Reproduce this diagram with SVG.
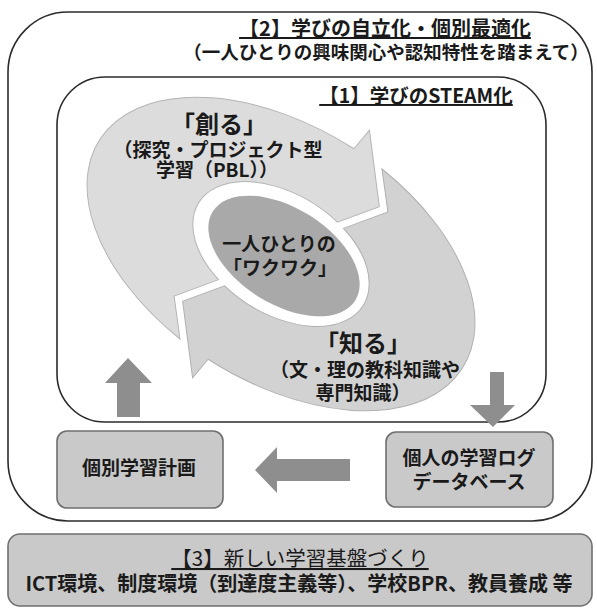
<svg xmlns="http://www.w3.org/2000/svg" xmlns:xlink="http://www.w3.org/1999/xlink" width="597" height="610" viewBox="0 0 597 610">
<style>
text{font-family:"Noto Sans CJK JP","Noto Sans",sans-serif;fill:#1a1a1a;text-anchor:middle}
.b{font-weight:700}
.frame{fill:none;stroke:#2b2b2b;stroke-width:1.6}
.box{fill:#c9c9c9;stroke:#6f6f6f;stroke-width:1.6}
.arr{fill:#8e8e8e}
.cre{fill:#dcdcdc;stroke:#b4b4b4;stroke-width:1}
.kno{fill:#d2d2d2;stroke:#b0b0b0;stroke-width:1}
</style>
<defs>
<path id="crescent" d="M -40.6 125.6 A 216 128 0 0 1 6 -127.9 L 9.4 -151.8 L 58.3 -92.3 L 30.9 -56.9 A 97 60 0 0 0 -39.4 54.8 L -68.4 92.3 Z"/>
</defs>
<rect width="597" height="610" fill="#fff"/>
<g id="outer">
<rect class="frame" x="8" y="12" width="584" height="509" rx="60" ry="60"/>
<text class="b" x="385" y="36" font-size="20" text-decoration="underline">【2】学びの自立化・個別最適化</text>
<text class="b" x="386" y="59" font-size="18.5">（一人ひとりの興味関心や認知特性を踏まえて）</text>
</g>
<g id="inner">
<rect class="frame" x="57" y="77" width="489" height="345" rx="48" ry="48"/>
<text class="b" x="416" y="103" font-size="19.5" text-decoration="underline">【1】学びのSTEAM化</text>
</g>
<g id="create">
<use xlink:href="#crescent" href="#crescent" class="cre" transform="translate(281,254) rotate(32)"/>
<text class="b" x="219" y="133" font-size="24">「創る」</text>
<text class="b" x="218" y="157" font-size="19">（探究・プロジェクト型</text>
<text class="b" x="217" y="177" font-size="19">学習（PBL））</text>
</g>
<g id="know">
<use xlink:href="#crescent" href="#crescent" class="kno" transform="translate(281,254) rotate(212)"/>
<text class="b" x="363" y="352" font-size="24">「知る」</text>
<text class="b" x="365" y="377" font-size="19">（文・理の教科知識や</text>
<text class="b" x="363" y="400" font-size="19">専門知識）</text>
</g>
<g id="center">
<ellipse cx="0" cy="0" rx="84" ry="48" fill="#a9a9a9" transform="translate(284,256) rotate(32)"/>
<text class="b" x="279" y="251" font-size="19">一人ひとりの</text>
<text class="b" x="280" y="275" font-size="19">「ワクワク」</text>
</g>
<g id="plan">
<rect class="box" x="57" y="431" width="166" height="77" rx="10" ry="10"/>
<text class="b" x="139" y="475" font-size="19">個別学習計画</text>
</g>
<g id="log">
<rect class="box" x="386" y="432" width="167" height="75" rx="10" ry="10"/>
<text class="b" x="469" y="465" font-size="19">個人の学習ログ</text>
<text class="b" x="469" y="489" font-size="19">データベース</text>
</g>
<g id="base">
<rect class="box" x="8" y="534" width="584" height="72" rx="12" ry="12"/>
<text x="300" y="566" font-size="20.5" text-decoration="underline">【3】新しい学習基盤づくり</text>
<text class="b" x="299" y="591" font-size="20">ICT環境、制度環境（到達度主義等）、学校BPR、教員養成 等</text>
</g>
<g id="connectors">
<path class="arr" d="M128 358 L152 383 L140 383 L140 417 L117 417 L117 383 L105 383 Z"/>
<path class="arr" d="M493 427 L515 405 L504 405 L504 372 L490 372 L490 405 L470 405 Z"/>
<path class="arr" d="M255 470 L277 447 L277 459 L350 459 L350 481 L277 481 L277 493 Z"/>
</g>
</svg>
